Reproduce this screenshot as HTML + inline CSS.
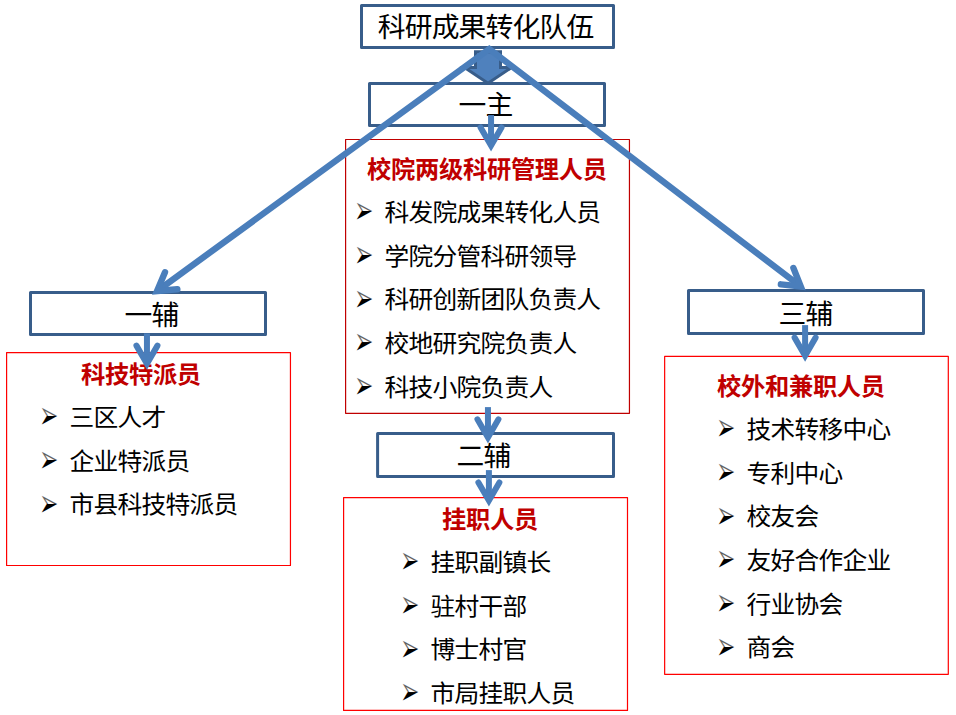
<!DOCTYPE html>
<html lang="zh-CN">
<head>
<meta charset="utf-8">
<title>科研成果转化队伍</title>
<style>
html,body{margin:0;padding:0;background:#fff;}
body{width:956px;height:715px;overflow:hidden;position:relative;font-family:"Liberation Sans","Noto Sans CJK SC",sans-serif;}
svg{position:absolute;left:0;top:0;display:block;}
text{font-family:"Liberation Sans","Noto Sans CJK SC",sans-serif;}
.lbl{font-size:27px;fill:#000;text-anchor:middle;letter-spacing:-0.786px;}
.ttl{font-size:24px;font-weight:bold;fill:#C00000;text-anchor:middle;letter-spacing:-0.285px;}
.itm{font-size:24px;fill:#000;letter-spacing:-0.699px;}
.bul{font-family:"DejaVu Sans","Liberation Sans",sans-serif;font-size:22.7px;fill:url(#bg);}
.box{fill:#fff;stroke:#385D8A;stroke-width:3;stroke-linejoin:round;}
.red{fill:#fff;stroke-width:1.2;stroke-linejoin:round;}
.ln{stroke:#4A7EBB;fill:none;}
</style>
</head>
<body>
<svg width="956" height="715" viewBox="0 0 956 715">
<defs><linearGradient id="bg" gradientUnits="userSpaceOnUse" x1="0" y1="-12" x2="0" y2="-2"><stop offset="0" stop-color="#000" stop-opacity="0.62"/><stop offset="0.47" stop-color="#000" stop-opacity="0.62"/><stop offset="0.5" stop-color="#000"/><stop offset="1" stop-color="#000"/></linearGradient></defs>
<rect x="0" y="0" width="956" height="715" fill="#ffffff"/>

<!-- content panels -->
<rect class="red" x="345.6" y="139.5" width="283.85" height="273.85" stroke="#C00000"/>
<rect class="red" x="6.6" y="352.55" width="283.85" height="212.95" stroke="#FF0000"/>
<rect class="red" x="343.6" y="497.6" width="283.9" height="212.8" stroke="#FF0000"/>
<rect class="red" x="664.65" y="356.45" width="283.65" height="317.85" stroke="#FF0000"/>
<!-- header boxes -->
<rect class="box" x="361.5" y="5.4" width="252" height="42"/>
<rect class="box" x="369.5" y="83.4" width="235" height="42.1"/>
<rect class="box" x="30.5" y="292.4" width="235" height="42"/>
<rect class="box" x="377.6" y="433.6" width="235.9" height="42.8"/>
<rect class="box" x="688.5" y="290.4" width="235" height="43"/>
<!-- block arrow -->
<polygon points="475.5,51.7 500.5,51.7 500.5,67.5 511.5,67.5 488,83.2 464.5,67.5 475.5,67.5" fill="#4F81BD" stroke="#385D8A" stroke-width="3" stroke-linejoin="miter" stroke-miterlimit="10"/>
<!-- labels -->
<text class="lbl" transform="translate(485.6 36.5) scale(1.03 1)">科研成果转化队伍</text>
<text class="lbl" transform="translate(485.6 114.5) scale(1.03 1)">一主</text>
<text class="lbl" transform="translate(151.6 324.5) scale(1.03 1)">一辅</text>
<text class="lbl" transform="translate(483.4 465.5) scale(1.03 1)">二辅</text>
<text class="lbl" transform="translate(805.6 324.3) scale(1.03 1)">三辅</text>
<text class="ttl" transform="translate(486.9 177.5) scale(1.012 1)">校院两级科研管理人员</text>
<text class="ttl" transform="translate(140.9 382.5) scale(1.012 1)">科技特派员</text>
<text class="ttl" transform="translate(489.9 527.5) scale(1.012 1)">挂职人员</text>
<text class="ttl" transform="translate(800.9 394.5) scale(1.012 1)">校外和兼职人员</text>
<!-- lists -->
<text class="bul" transform="translate(354.18 223.21) scale(1 1.678)">➢</text><text class="itm" transform="translate(384.4 220.8) scale(1.03 1)">科发院成果转化人员</text>
<text class="bul" transform="translate(354.18 266.91) scale(1 1.678)">➢</text><text class="itm" transform="translate(384.4 264.5) scale(1.03 1)">学院分管科研领导</text>
<text class="bul" transform="translate(354.18 310.61) scale(1 1.678)">➢</text><text class="itm" transform="translate(384.4 308.2) scale(1.03 1)">科研创新团队负责人</text>
<text class="bul" transform="translate(354.18 354.31) scale(1 1.678)">➢</text><text class="itm" transform="translate(384.4 351.9) scale(1.03 1)">校地研究院负责人</text>
<text class="bul" transform="translate(354.18 398.01) scale(1 1.678)">➢</text><text class="itm" transform="translate(384.4 395.6) scale(1.03 1)">科技小院负责人</text>
<text class="bul" transform="translate(39.18 428.21) scale(1 1.678)">➢</text><text class="itm" transform="translate(69.4 425.8) scale(1.03 1)">三区人才</text>
<text class="bul" transform="translate(39.18 471.91) scale(1 1.678)">➢</text><text class="itm" transform="translate(69.4 469.5) scale(1.03 1)">企业特派员</text>
<text class="bul" transform="translate(39.18 515.61) scale(1 1.678)">➢</text><text class="itm" transform="translate(69.4 513.2) scale(1.03 1)">市县科技特派员</text>
<text class="bul" transform="translate(400.18 573.21) scale(1 1.678)">➢</text><text class="itm" transform="translate(430.4 570.8) scale(1.03 1)">挂职副镇长</text>
<text class="bul" transform="translate(400.18 616.91) scale(1 1.678)">➢</text><text class="itm" transform="translate(430.4 614.5) scale(1.03 1)">驻村干部</text>
<text class="bul" transform="translate(400.18 660.61) scale(1 1.678)">➢</text><text class="itm" transform="translate(430.4 658.2) scale(1.03 1)">博士村官</text>
<text class="bul" transform="translate(400.18 704.31) scale(1 1.678)">➢</text><text class="itm" transform="translate(430.4 701.9) scale(1.03 1)">市局挂职人员</text>
<text class="bul" transform="translate(716.18 440.21) scale(1 1.678)">➢</text><text class="itm" transform="translate(746.4 437.8) scale(1.03 1)">技术转移中心</text>
<text class="bul" transform="translate(716.18 483.91) scale(1 1.678)">➢</text><text class="itm" transform="translate(746.4 481.5) scale(1.03 1)">专利中心</text>
<text class="bul" transform="translate(716.18 527.61) scale(1 1.678)">➢</text><text class="itm" transform="translate(746.4 525.2) scale(1.03 1)">校友会</text>
<text class="bul" transform="translate(716.18 571.31) scale(1 1.678)">➢</text><text class="itm" transform="translate(746.4 568.9) scale(1.03 1)">友好合作企业</text>
<text class="bul" transform="translate(716.18 615.01) scale(1 1.678)">➢</text><text class="itm" transform="translate(746.4 612.6) scale(1.03 1)">行业协会</text>
<text class="bul" transform="translate(716.18 658.71) scale(1 1.678)">➢</text><text class="itm" transform="translate(746.4 656.3) scale(1.03 1)">商会</text>
<!-- connectors -->
<path class="ln" d="M157.03,291.04 L489.3,49 L800.76,286.53" stroke-width="6.4" stroke-linejoin="miter" stroke-miterlimit="10"/>
<path class="ln" d="M164.99,272.25 L157.03,291.04 L177.35,289.22" stroke-width="6.4" stroke-linecap="round" stroke-linejoin="miter" stroke-miterlimit="10"/>
<path class="ln" d="M780.88,284.32 L800.76,286.53 L793.37,267.94" stroke-width="6.4" stroke-linecap="round" stroke-linejoin="miter" stroke-miterlimit="10"/>
<path class="ln" d="M491.05,115.1 L491.05,145.62" stroke-width="6"/><path class="ln" d="M480.55,127.52 L491.05,145.62 L501.55,127.52" stroke-width="6" stroke-linecap="round" stroke-linejoin="miter" stroke-miterlimit="10"/>
<path class="ln" d="M146.95,333.4 L146.95,363.72" stroke-width="6"/><path class="ln" d="M136.45,345.62 L146.95,363.72 L157.45,345.62" stroke-width="6" stroke-linecap="round" stroke-linejoin="miter" stroke-miterlimit="10"/>
<path class="ln" d="M487.95,407.1 L487.95,437.42" stroke-width="6"/><path class="ln" d="M477.45,419.32 L487.95,437.42 L498.45,419.32" stroke-width="6" stroke-linecap="round" stroke-linejoin="miter" stroke-miterlimit="10"/>
<path class="ln" d="M488.9,470.1 L488.9,500.62" stroke-width="6"/><path class="ln" d="M478.4,482.52 L488.9,500.62 L499.4,482.52" stroke-width="6" stroke-linecap="round" stroke-linejoin="miter" stroke-miterlimit="10"/>
<path class="ln" d="M805.1,325.1 L805.1,355.72" stroke-width="6"/><path class="ln" d="M794.6,337.62 L805.1,355.72 L815.6,337.62" stroke-width="6" stroke-linecap="round" stroke-linejoin="miter" stroke-miterlimit="10"/>
</svg>
</body>
</html>
